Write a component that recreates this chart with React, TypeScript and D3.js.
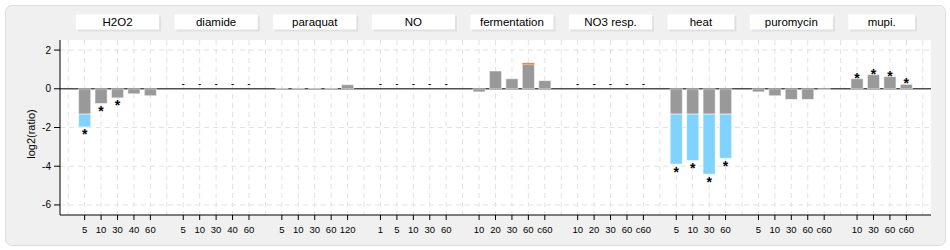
import React from "react";
import * as d3 from "d3";

// ---- data ----
const groups = ["H2O2", "diamide", "paraquat", "NO", "fermentation", "NO3 resp.", "heat", "puromycin", "mupi."];
const timepoints: string[][] = [
  ["5", "10", "30", "40", "60"],
  ["5", "10", "30", "40", "60"],
  ["5", "10", "30", "60", "120"],
  ["1", "5", "10", "30", "60"],
  ["10", "20", "30", "60", "c60"],
  ["10", "20", "30", "60", "c60"],
  ["5", "10", "30", "60"],
  ["5", "10", "30", "60", "c60"],
  ["10", "30", "60", "c60"],
];
const values: (number | null)[][] = [
  [-1.97, -0.76, -0.47, -0.26, -0.36],
  [null, null, null, null, null],
  [0.04, 0.03, 0.03, 0.03, 0.21],
  [null, null, null, null, null],
  [-0.16, 0.92, 0.52, 1.34, 0.42],
  [null, null, null, null, null],
  [-3.89, -3.71, -4.41, -3.59],
  [-0.16, -0.36, -0.55, -0.55, -0.03],
  [0.52, 0.73, 0.63, 0.23],
];
const significant: boolean[][] = [
  [true, true, true, false, false],
  [false, false, false, false, false],
  [false, false, false, false, false],
  [false, false, false, false, false],
  [false, false, false, false, false],
  [false, false, false, false, false],
  [true, true, true, true],
  [false, false, false, false, false],
  [true, true, true, true],
];
const foldUp = 1.25;
const foldDown = -1.31;
const yTicks = [2, 0, -2, -4, -6];
const yLabel = "log2(ratio)";

// ---- layout ----
const W = 950;
const H = 250;
const left = 60;
const right = 931;
const top = 40;
const bottom = 215;
const FONT = "'Liberation Sans', Arial, sans-serif";

type Slot = { key: string; g: number; i: number; label: string | null };

export default function App() {
  const slots: Slot[] = [];
  groups.forEach((_, g) => {
    slots.push({ key: `gap-${g}`, g, i: -1, label: null });
    timepoints[g].forEach((t, i) => slots.push({ key: `${g}-${i}`, g, i, label: t }));
  });
  slots.push({ key: "gap-end", g: -1, i: -1, label: null });

  const x = d3.scaleBand<string>().domain(slots.map((s) => s.key)).range([left, right]).padding(0);
  const bw = x.bandwidth();
  const y = d3.scaleLinear().domain([-6.52, 2.52]).range([bottom, top]);
  const y0 = y(0);
  const barW = bw * 0.74;

  const items = slots.filter((s) => s.label !== null);

  return (
    <div style={{ position: "absolute", left: 0, top: 0 }}>
      <svg width={W} height={H} style={{ display: "block", fontFamily: FONT }}>
        <rect x={0} y={0} width={W} height={H} fill="#ffffff" />
        <rect x={5.5} y={5.5} width={940} height={240} rx={6} fill="#f0f0f0" stroke="#dedede" />
        {/* plot area */}
        <rect x={left} y={top} width={right - left} height={bottom - top} fill="#ffffff" />
        {/* grid */}
        {slots.map((s) => {
          const cx = (x(s.key) as number) + bw / 2;
          return (
            <line key={"vg" + s.key} x1={cx} x2={cx} y1={top} y2={bottom} stroke="#e2e2e2" strokeDasharray="5,4" />
          );
        })}
        {yTicks.filter((t) => t !== 0).map((t) => (
          <line key={"hg" + t} x1={left} x2={right} y1={y(t)} y2={y(t)} stroke="#e2e2e2" strokeDasharray="5,4" />
        ))}
        {/* zero line */}
        <line x1={left} x2={right} y1={y0} y2={y0} stroke="#505050" strokeWidth={1.5} />
        {/* headers */}
        {groups.map((gname, g) => {
          const first = x(`${g}-0`) as number;
          const n = timepoints[g].length;
          const w = n * bw + 1;
          const bx = first - 0.5;
          return (
            <g key={"hdr" + g}>
              <rect x={bx + 2} y={16.5} width={w} height={15} fill="#e0e0e0" />
              <rect x={bx} y={14.5} width={w} height={15} fill="#ffffff" />
              <text x={bx + w / 2} y={26} textAnchor="middle" fontSize={11.5} fill="#000">
                {gname}
              </text>
            </g>
          );
        })}
        {/* bars */}
        {items.map((s) => {
          const v = values[s.g][s.i];
          const cx = (x(s.key) as number) + bw / 2;
          if (v === null) {
            return (
              <text key={"d" + s.key} x={cx} y={y0 - 1.5} textAnchor="middle" fontSize={10} fill="#000">
                -
              </text>
            );
          }
          const g = Math.max(foldDown, Math.min(foldUp, v));
          const parts: JSX.Element[] = [];
          parts.push(
            <rect
              key="g"
              x={cx - barW / 2}
              y={Math.min(y(g), y0)}
              width={barW}
              height={Math.abs(y(g) - y0)}
              fill="#999999"
              stroke="rgba(255,255,255,0.55)"
              strokeWidth={1}
            />
          );
          if (v > foldUp) {
            parts.push(
              <rect key="o" x={cx - barW / 2} y={y(v)} width={barW} height={y(foldUp) - y(v)} fill="#e8883a" />
            );
          } else if (v < foldDown) {
            parts.push(
              <rect
                key="b"
                x={cx - barW / 2}
                y={y(foldDown)}
                width={barW}
                height={y(v) - y(foldDown)}
                fill="#80d2ff"
                stroke="rgba(255,255,255,0.55)"
                strokeWidth={1}
              />
            );
          }
          if (significant[s.g][s.i]) {
            const sy = v < 0 ? y(v) + 4.5 + 8 : y(v) - 4 + 8;
            parts.push(
              <text key="s" x={cx} y={sy} textAnchor="middle" fontSize={14} fontWeight="bold" fill="#000">
                *
              </text>
            );
          }
          return <g key={"b" + s.key}>{parts}</g>;
        })}
        {/* axes */}
        <line x1={left} x2={left} y1={top} y2={bottom} stroke="#000" />
        <line x1={left} x2={right} y1={bottom} y2={bottom} stroke="#000" />
        {yTicks.map((t) => (
          <g key={"yt" + t}>
            <line x1={left - 6} x2={left} y1={y(t)} y2={y(t)} stroke="#000" />
            <text x={left - 9} y={y(t) + 3.5} textAnchor="end" fontSize={10} fill="#000">
              {t}
            </text>
          </g>
        ))}
        {items.map((s) => {
          const cx = (x(s.key) as number) + bw / 2;
          return (
            <g key={"xt" + s.key}>
              <line x1={cx} x2={cx} y1={bottom} y2={bottom + 5} stroke="#000" />
              <text x={cx} y={233} textAnchor="middle" fontSize={9.5} fill="#000">
                {s.label}
              </text>
            </g>
          );
        })}
        <text
          transform={`translate(35, ${134}) rotate(-90)`}
          textAnchor="middle"
          fontSize={11}
          fill="#000"
        >
          {yLabel}
        </text>
      </svg>
    </div>
  );
}
